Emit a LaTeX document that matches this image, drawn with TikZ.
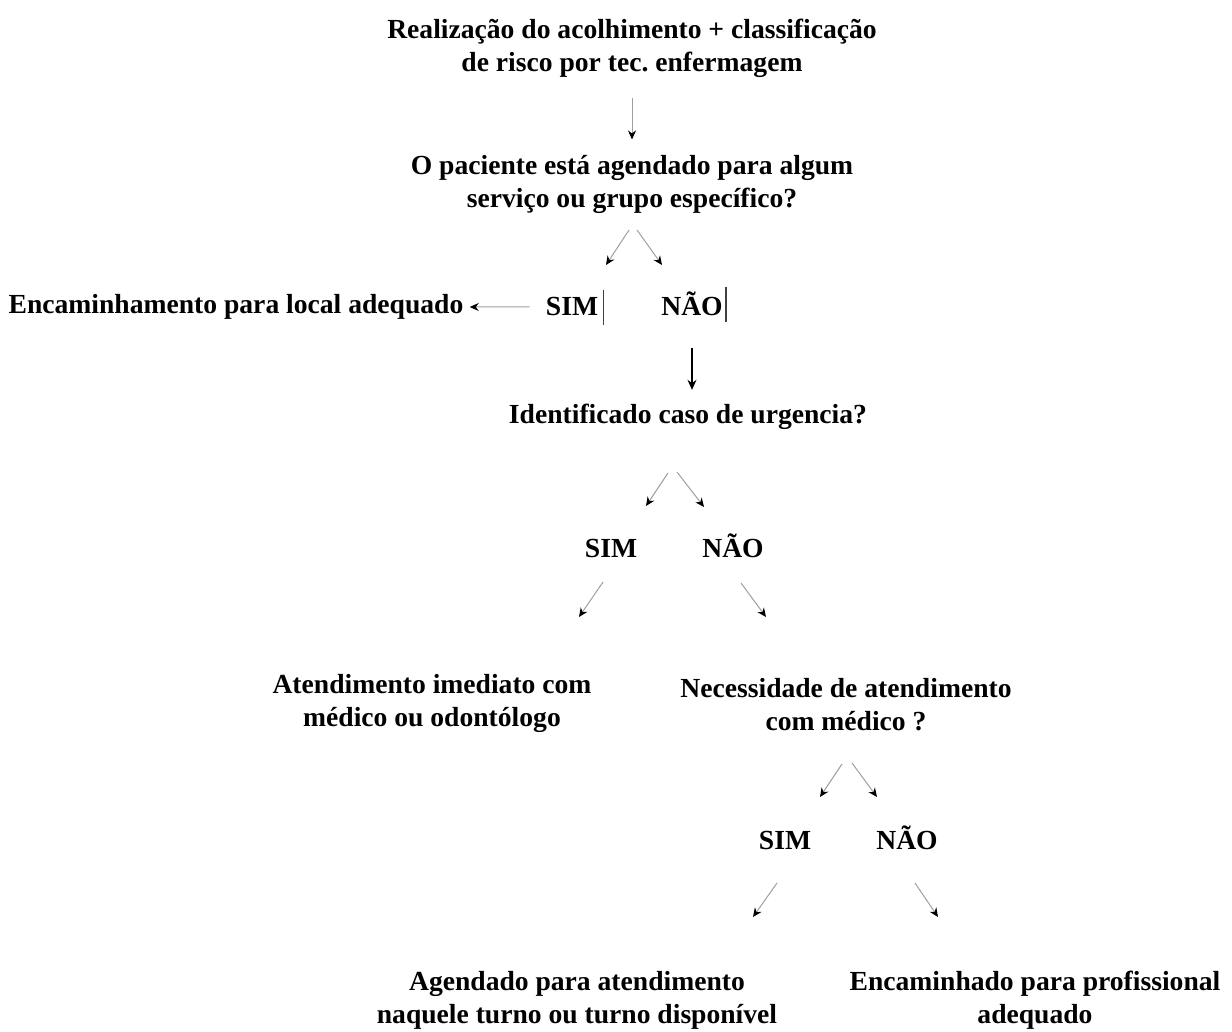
\documentclass[tikz,border=0pt]{standalone}
\usepackage{fontspec}
\setmainfont{Liberation Serif}
\usepackage{tikz}
\usetikzlibrary{arrows.meta, positioning}
\frenchspacing
\tikzstyle{txt}    = [font=\fontsize{13.8}{16.5}\selectfont\bfseries, align=center, inner sep=0pt]
\tikzstyle{answer} = [txt, anchor=base]
\tikzstyle{arrow}  = [draw=gray!75, line width=0.5pt, -{Stealth[black, length=4.5pt, width=4pt]}]
\tikzstyle{darrow} = [draw=black, line width=0.7pt, -{Stealth[length=5pt, width=4.5pt]}]
\tikzstyle{cursor} = [draw=black!75, line width=0.6pt]

\begin{document}
\begin{tikzpicture}[x=0.5pt, y=-0.5pt]
    \useasboundingbox (0,0) rectangle (1232,1032);

    \node (acol)  at ( 632,  48) [txt]    {Realização do acolhimento + classificação\\de risco por tec. enfermagem};
    \node (q1)    at ( 632, 184) [txt]    {O paciente está agendado para algum\\serviço ou grupo específico?};
    \node (enc)   at ( 236, 307) [txt]    {Encaminhamento para local adequado};
    \node (sim1)  at ( 572, 316) [answer] {SIM};
    \node (nao1)  at ( 692, 316) [answer] {NÃO};
    \node (urg)   at ( 688, 417) [txt]    {Identificado caso de urgencia?};
    \node (sim2)  at ( 611, 557) [answer] {SIM};
    \node (nao2)  at ( 733, 557) [answer] {NÃO};
    \node (atend) at ( 432, 703) [txt]    {Atendimento imediato com\\médico ou odontólogo};
    \node (nec)   at ( 846, 705) [txt]    {Necessidade de atendimento\\com médico ?};
    \node (sim3)  at ( 785, 849) [answer] {SIM};
    \node (nao3)  at ( 907, 849) [answer] {NÃO};
    \node (agend) at ( 577,1000) [txt]    {Agendado para atendimento\\naquele turno ou turno disponível};
    \node (encp)  at (1035,1000) [txt]    {Encaminhado para profissional\\adequado};

    % ends of the short slanted arrows
    \coordinate (q1l)   at (629,230);  \coordinate (q1lt)  at (606,265);
    \coordinate (q1r)   at (637,230);  \coordinate (q1rt)  at (662,265);
    \coordinate (urgl)  at (668,473);  \coordinate (urglt) at (646,506);
    \coordinate (urgr)  at (677,472);  \coordinate (urgrt) at (704,507);
    \coordinate (sim2s) at (603,582);  \coordinate (sim2t) at (579,617);
    \coordinate (nao2s) at (741,583);  \coordinate (nao2t) at (766,617);
    \coordinate (necl)  at (842,764);  \coordinate (neclt) at (820,797);
    \coordinate (necr)  at (852,763);  \coordinate (necrt) at (877,797);
    \coordinate (sim3s) at (777,883);  \coordinate (sim3t) at (753,917);
    \coordinate (nao3s) at (915,883);  \coordinate (nao3t) at (938,917);

    \draw [arrow, shorten <=10pt, shorten >=7.5pt] (acol.south) -- (q1.north);
    \draw [arrow] (q1l) -- (q1lt);
    \draw [arrow] (q1r) -- (q1rt);
    \draw [arrow, shorten <=8pt, shorten >=3pt] (sim1.west) -- (enc.east);
    \draw [cursor] ([shift={(5,-17)}]sim1.east) -- ([shift={(5,18)}]sim1.east);
    \draw [cursor] ([shift={(3,-17)}]nao1.east) -- ([shift={(3,18)}]nao1.east);
    \draw [darrow, shorten <=15.5pt, shorten >=7pt] (nao1.south) -- (nao1.south |- urg.north);
    \draw [arrow] (urgl) -- (urglt);
    \draw [arrow] (urgr) -- (urgrt);
    \draw [arrow] (sim2s) -- (sim2t);
    \draw [arrow] (nao2s) -- (nao2t);
    \draw [arrow] (necl) -- (neclt);
    \draw [arrow] (necr) -- (necrt);
    \draw [arrow] (sim3s) -- (sim3t);
    \draw [arrow] (nao3s) -- (nao3t);
\end{tikzpicture}
\end{document}
